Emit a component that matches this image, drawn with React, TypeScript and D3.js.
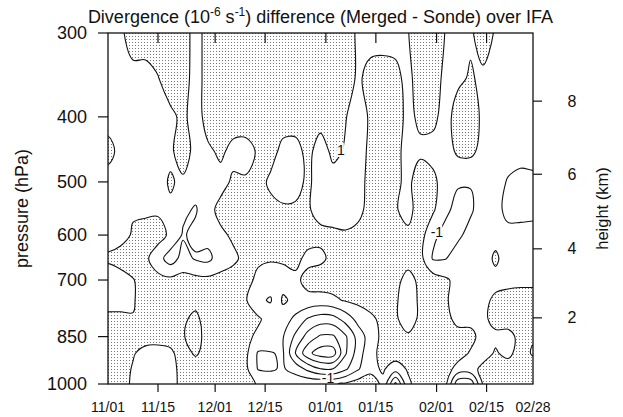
import React from "react";
import * as d3 from "d3";

// Grid columns: days since 1 Nov 1992
const days: number[] = [
  0, 3.5, 7, 10.5, 14, 17.5, 21, 24.5, 28, 31.5, 35, 38.5, 42, 45.5, 49, 52.5, 56, 59.5,
  63, 66.5, 70, 73.5, 77, 80.5, 84, 87.5, 91, 94.5, 98, 101.5, 105, 108.5, 112, 115.5, 119,
];

// Grid rows: pressure levels (hPa)
const pressureLevels: number[] = [300, 350, 400, 450, 500, 550, 600, 650, 700, 750, 800, 850, 900, 950, 1000];

// Divergence difference (1e-6 s-1), one row per pressure level, one value per day column
const divergence: number[][] = [
  [0, 0.4, 2.5, 2.5, 2.5, 2.5, 2.5, -0.2, 2.1, 2.5, 2.5, 2.5, 2.5, 2.5, 2.5, 2.5, 2.5, 2.5, 2.5, 2.5, 0.5, 0, 0, 0, 0.9, 2.5, 2.5, 0.9, 0, 0.7, 2, 0.8, 0, 0.3, 0.5],
  [0, 0, 0, 0, 0.9, 2.5, 2.3, -0.2, 2.1, 2.5, 2.5, 2.5, 2.5, 2.5, 2.5, 2.5, 2.5, 2.2, 2.3, 2.3, 0.6, 1.8, 2, 1.7, 0.2, 2.5, 2.3, 0.3, 0.6, 1.2, 0.6, 0, 0, 0, 0],
  [0, 0, 0, 0, 0, 0.4, 1.6, -0.2, 2, 2.3, 2.1, 2.5, 2.5, 2.5, 2, 2, 2.4, 1.9, 2, 1.1, 0, 1.3, 2, 2, 0.4, 1.5, 1.5, 0.2, 1.9, 2.2, 0.5, 0, 0, 0, 0],
  [1.8, 0.3, 0, 0, 0, 0.6, 2.2, 0.2, 0.6, 1.4, 0.4, 0, 1.3, 1.8, 0.4, 0.3, 1.6, 0, 1.5, 0.8, 0, 1.5, 2, 1.4, 0.5, 0.5, 0.3, 0, 1.4, 1.5, 0.3, 0, 0, 0, 0],
  [0, 0, 0, 0, 0.4, 1.2, 0.6, 0, -0.1, 0.3, 1.3, 1.3, 1.8, 0.6, 0, 0.3, 1.4, 0, 0.2, 0.2, 0.4, 1.5, 2, 1.5, 0.4, 2.4, 1.5, 0, -0.8, -0.9, 0, 0, -1.2, -1.8, -1.6],
  [0, 0.3, 0.8, 0.5, 0.7, 0.7, -0.6, -1.2, 0.3, 1.6, 2, 2, 2, 1.6, 1.3, 1.3, 1.2, 0.3, 0.3, 0.2, 0.6, 1.5, 2, 1.2, 0.2, 2.2, 1.3, -0.6, -1.6, -1.3, 0, -0.3, -1.6, -1.8, -1.8],
  [0.2, 0.3, 1.2, 2, 1.8, 0.6, -1.2, -0.5, -0.3, 0.6, 1.3, 1.8, 2, 2, 2, 1.6, 1.8, 1.5, 1.3, 1.2, 1.4, 2, 2, 1.6, 1.5, 1.8, -0.6, -1.6, -1.4, -0.3, 0, 0.4, -0.4, -0.2, 0],
  [1.3, 1.8, 2, 1.4, -0.2, -2, -0.3, -1.2, -1.5, 0, 0.6, 1.5, 1.3, 1.2, 1.3, 1.5, 0.5, 0.6, 1.5, 2, 1.5, 1.6, 2, 1.8, 1.8, 1.6, -1.2, -1.1, 0, 0, 0.2, 1.3, 0.2, 0, 0],
  [0, 0.2, 0.9, 1.8, 1.6, 1.5, 1.7, 1.6, 1.5, 1.6, 1.8, 1.6, 0.6, 0, 0.2, 0.6, 1.6, 2, 2, 2, 2, 2, 2, 1.6, 0.3, 1.5, 2, 1.3, 0.4, 0.2, 0.4, 0.5, 0.6, 0.7, 0.7],
  [0, 0.2, 0.8, 2, 2.2, 2.2, 2.4, 2.6, 2, 1.8, 1.5, 1.2, -0.6, -1.2, 1.3, 0.5, 0.5, 0.3, 0.6, 1.2, 1.5, 1.8, 1.8, 1.2, 0.2, 1.3, 1.8, 1.2, 0.3, 0.2, 0.6, 1.3, 1.5, 1.5, 1.5],
  [1.6, 1.5, 1.1, 2, 2.2, 2.3, 2.8, 3.3, 2.4, 2, 1.8, 1.6, 1.3, 0.2, 0, -1.5, -3.2, -4, -3.8, -2.2, -0.3, 0.6, 1.5, 1.2, 0.3, 1.3, 2, 1.5, 0.5, 0.4, 0.6, 1.6, 2, 2, 2],
  [2, 2, 2, 2, 2, 2.2, 2.9, 3.6, 2.4, 2, 1.8, 1.5, 0.6, 0, -0.9, -3.4, -5.8, -7.3, -7.3, -5.3, -2.2, 0, 1.5, 2, 1.2, 1.8, 2, 1.6, 1.6, 1.6, 0.2, 0.6, 0.3, 1.6, 1.2],
  [2, 2, 1.2, 0.2, 0, 0.4, 2.4, 3.2, 2.4, 2, 1.8, 1.5, -1.2, -1.1, -0.8, -5, -8.5, -10, -10, -5.2, -2, 0.5, 1.5, 2, 1.8, 1.5, 2, 2, 1.8, 0.8, 0.2, 1.2, 0.5, 1.8, 0.8],
  [2, 2, 0.8, -0.3, -0.3, 0.2, 1.8, 2.2, 2, 2, 1.8, 1.5, -1.1, -1.2, -0.8, -1.8, -3.5, -4.9, -4.9, -3.3, -1.2, 0.5, 1.2, 0, 1.2, 2, 2, 1.8, 0.3, 0.3, 1.5, 2, 2, 2, 2],
  [2, 2, 0.6, 0, 0, 0.3, 1.6, 2, 2, 2, 2, 1.8, 0.8, 0.2, 0.2, 0.4, 0.6, 0.8, 0.8, 1.3, 2, 2, 0.6, -5.5, 0.6, 2, 2, 1.5, -4.5, -4.5, 1.2, 2, 2, 2, 2],
];

const contourLevels: number[] = [-9, -7, -5, -3, -1, 1, 3, 5, 7];
const shadeThreshold = 1;

// Axis ticks
const pressureTicks: number[] = [300, 400, 500, 600, 700, 850, 1000];
const dateTickDays: number[] = [0, 14, 30, 44, 61, 75, 92, 106, 119];
const dateTickLabels: string[] = ["11/01", "11/15", "12/01", "12/15", "01/01", "01/15", "02/01", "02/15", "02/28"];
const heightTicks: number[] = [2, 4, 6, 8];
const heightTickPressure: number[] = [797, 629, 487, 379];

// In-line contour labels
const labelDays: number[] = [65.2, 92.1, 61.6];
const labelPressure: number[] = [448, 593, 978];
const labelText: string[] = ["1", "-1", "-1"];

const W = 623;
const H = 417;
const X0 = 108;
const X1 = 533;
const Y0 = 33;
const Y1 = 384;
const FONT = "'Liberation Sans', Arial, Helvetica, sans-serif";

// Linear interpolation along an array at a fractional index, extrapolating past the ends
function atIndex(arr: number[], f: number): number {
  const n = arr.length;
  let i = Math.floor(f);
  if (i < 0) i = 0;
  if (i > n - 2) i = n - 2;
  const t = f - i;
  return arr[i] + (arr[i + 1] - arr[i]) * t;
}

export default function App() {
  const xScale = d3.scaleLinear().domain([0, 119]).range([X0, X1]);
  const yScale = d3.scaleLog().domain([300, 1000]).range([Y0, Y1]);
  const logLevels = pressureLevels.map((p) => Math.log(p));

  const nx = days.length;
  const ny = pressureLevels.length;
  // one repeated cell on every side so that lines leaving the frame get clipped, not closed along it
  const values: number[] = [];
  for (let r = -1; r <= ny; r++) {
    for (let c = -1; c <= nx; c++) {
      const rr = Math.min(ny - 1, Math.max(0, r));
      const cc = Math.min(nx - 1, Math.max(0, c));
      values.push(divergence[rr][cc]);
    }
  }
  const gen = d3.contours().size([nx + 2, ny + 2]).smooth(true);

  const toPx = (pt: number[]): [number, number] => {
    const j = pt[0] - 1.5;
    const r = pt[1] - 1.5;
    const day = atIndex(days, j);
    const p = Math.exp(atIndex(logLevels, r));
    return [xScale(day), yScale(p)];
  };

  const line = d3
    .line<[number, number]>()
    .curve(d3.curveCatmullRomClosed.alpha(0.5));

  const ringsPath = (geom: d3.ContourMultiPolygon) => {
    let d = "";
    for (const poly of geom.coordinates) {
      for (const ring of poly) {
        const pts = ring.slice(0, ring.length - 1).map((p) => toPx(p as number[]));
        d += line(pts) || "";
      }
    }
    return d;
  };

  const shade = gen.thresholds([shadeThreshold])(values)[0];
  const shadePath = ringsPath(shade);
  const linePaths = gen.thresholds(contourLevels)(values).map((g) => ({ v: g.value, d: ringsPath(g) }));

  const titleX = (X0 + X1) / 2;

  return (
    <svg
      width={W}
      height={H}
      viewBox={`0 0 ${W} ${H}`}
      style={{ position: "absolute", left: 0, top: 0, background: "#fff" }}
      fontFamily={FONT}
    >
      <defs>
        <pattern id="stipple" width={3} height={3} patternUnits="userSpaceOnUse">
          <rect x={0} y={0} width={1} height={1} fill="#777" />
        </pattern>
        <clipPath id="plotClip">
          <rect x={X0} y={Y0} width={X1 - X0} height={Y1 - Y0} />
        </clipPath>
      </defs>
      <rect width={W} height={H} fill="#fff" />

      <g clipPath="url(#plotClip)">
        <path d={shadePath} fill="url(#stipple)" fillRule="evenodd" stroke="none" />
        {linePaths.map((lp) => (
          <path key={lp.v} d={lp.d} fill="none" stroke="#111" strokeWidth={1.1} strokeLinejoin="round" />
        ))}
        {labelText.map((t, i) => (
          <text
            key={i}
            x={xScale(labelDays[i])}
            y={yScale(labelPressure[i])}
            fontSize={14}
            textAnchor="middle"
            dominantBaseline="central"
            stroke="#fff"
            strokeWidth={4}
            paintOrder="stroke"
            fill="#111"
          >
            {t}
          </text>
        ))}
      </g>

      {/* frame */}
      <rect x={X0} y={Y0} width={X1 - X0} height={Y1 - Y0} fill="none" stroke="#111" strokeWidth={1.3} />

      {/* pressure axis */}
      {pressureTicks.map((p) => (
        <g key={p}>
          <line x1={X0 - 10} x2={X0} y1={yScale(p)} y2={yScale(p)} stroke="#111" strokeWidth={1.2} />
          <text x={X0 - 21} y={yScale(p)} fontSize={18} textAnchor="end" dominantBaseline="central" fill="#111">
            {p}
          </text>
        </g>
      ))}
      <text
        transform={`translate(22,${(Y0 + Y1) / 2}) rotate(-90)`}
        fontSize={18}
        textAnchor="middle"
        dominantBaseline="central"
        fill="#111"
      >
        pressure (hPa)
      </text>

      {/* height axis */}
      {heightTicks.map((h, i) => (
        <g key={h}>
          <line x1={X1} x2={X1 + 9} y1={yScale(heightTickPressure[i])} y2={yScale(heightTickPressure[i])} stroke="#111" strokeWidth={1.2} />
          <text x={572} y={yScale(heightTickPressure[i])} fontSize={16} textAnchor="middle" dominantBaseline="central" fill="#111">
            {h}
          </text>
        </g>
      ))}
      <text
        transform={`translate(602,${(Y0 + Y1) / 2}) rotate(-90)`}
        fontSize={16.5}
        textAnchor="middle"
        dominantBaseline="central"
        fill="#111"
      >
        height (km)
      </text>

      {/* date axis */}
      {dateTickDays.map((d, i) => (
        <g key={d}>
          {i > 0 && i < dateTickDays.length - 1 && (
            <>
              <line x1={xScale(d)} x2={xScale(d)} y1={Y1} y2={Y1 + 8} stroke="#111" strokeWidth={1.2} />
              <line x1={xScale(d)} x2={xScale(d)} y1={Y0} y2={Y0 + 10} stroke="#111" strokeWidth={1.2} />
            </>
          )}
          <text x={xScale(d)} y={412} fontSize={14} textAnchor="middle" fill="#111">
            {dateTickLabels[i]}
          </text>
        </g>
      ))}

      {/* title */}
      <text x={titleX} y={23} fontSize={18} textAnchor="middle" fill="#111">
        Divergence (10
        <tspan dy={-7} fontSize={12}>-6</tspan>
        <tspan dy={7}> s</tspan>
        <tspan dy={-7} fontSize={12}>-1</tspan>
        <tspan dy={7}>) difference (Merged - Sonde) over IFA</tspan>
      </text>
    </svg>
  );
}
